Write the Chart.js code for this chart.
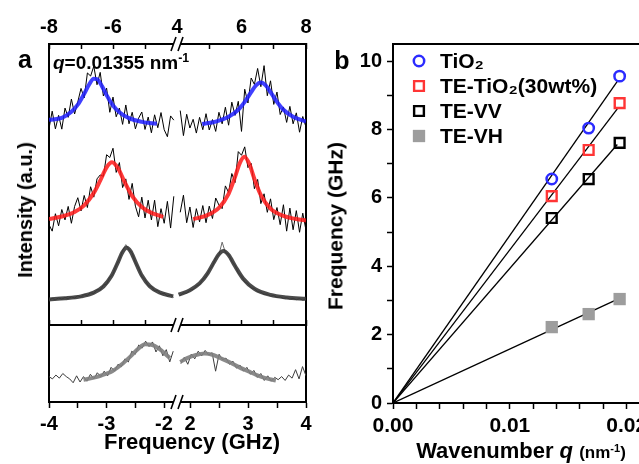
<!DOCTYPE html>
<html lang="en">
<head>
<meta charset="UTF-8" />
<title>Brillouin spectra and phonon dispersion</title>
<style>
  html, body { margin: 0; padding: 0; background: #fff; }
  body {
    width: 639px; height: 464px; overflow: hidden; position: relative;
    font-family: "Liberation Sans", Arial, sans-serif; font-weight: bold; color: #000;
  }
  canvas { position: absolute; }
  .txt { position: absolute; white-space: nowrap; line-height: 1; transform: translate(-50%, -50%); }
  .rot { transform: translate(-50%, -50%) rotate(-90deg); }
  .lbl { position: absolute; white-space: nowrap; }
  .sup { font-size: 0.65em; position: relative; top: -0.55em; }
</style>
</head>
<body>
<canvas id="aUpperL" width="200" height="340" style="left:0;top:0"></canvas>
<canvas id="aUpperR" width="200" height="340" style="left:150px;top:0"></canvas>
<canvas id="aLowerL" width="200" height="164" style="left:0;top:300px"></canvas>
<canvas id="aLowerR" width="200" height="164" style="left:150px;top:300px"></canvas>
<canvas id="bChart" width="360" height="464" style="left:300px;top:0"></canvas>

<div class="txt" style="left:25px;top:59px;font-size:25px">a</div>
<div class="txt" style="left:342px;top:60px;font-size:25px">b</div>
<div class="lbl" style="left:53px;top:53px;font-size:19px;line-height:19px"><i>q</i>=0.01355 nm<span class="sup">-1</span></div>
<div class="txt rot" style="left:25px;top:210px;font-size:20px">Intensity (a.u.)</div>
<div class="txt" style="left:192px;top:442px;font-size:22px">Frequency (GHz)</div>
<div class="txt rot" style="left:335px;top:226px;font-size:21px">Frequency (GHz)</div>
<div class="txt" style="left:521px;top:451px;font-size:22px">Wavenumber <i>q</i> <span style="font-size:17px">(nm<span class="sup">-1</span>)</span></div>

<script src="https://cdn.jsdelivr.net/npm/chart.js"></script>
<script>
  // ---- panel a: sampling grids (GHz) ----
  const topLX = [-8.0,-7.9,-7.8,-7.7,-7.6,-7.5,-7.4,-7.3,-7.2,-7.1,-7.0,-6.9,-6.8,-6.7,-6.6,-6.5,-6.4,-6.3,-6.2,-6.1,
                 -6.0,-5.9,-5.8,-5.7,-5.6,-5.5,-5.4,-5.3,-5.2,-5.1,-5.0,-4.9,-4.8,-4.7,-4.6,-4.5,-4.4,-4.3,-4.2,-4.1];
  const topRX = [4.1,4.2,4.3,4.4,4.5,4.6,4.7,4.8,4.9,5.0,5.1,5.2,5.3,5.4,5.5,5.6,5.7,5.8,5.9,6.0,
                 6.1,6.2,6.3,6.4,6.5,6.6,6.7,6.8,6.9,7.0,7.1,7.2,7.3,7.4,7.5,7.6,7.7,7.8,7.9,8.0];
  const botLX = [-4.00,-3.94,-3.88,-3.82,-3.76,-3.70,-3.64,-3.58,-3.52,-3.46,-3.40,-3.34,-3.28,-3.22,-3.16,-3.10,-3.04,-2.98,-2.92,
                 -2.86,-2.80,-2.74,-2.68,-2.62,-2.56,-2.50,-2.44,-2.38,-2.32,-2.26,-2.20,-2.14,-2.08,-2.02,-1.96,-1.90,-1.84];
  const botRX = [1.84,1.90,1.96,2.02,2.08,2.14,2.20,2.26,2.32,2.38,2.44,2.50,2.56,2.62,2.68,2.74,2.80,2.86,2.92,
                 2.98,3.04,3.10,3.16,3.22,3.28,3.34,3.40,3.46,3.52,3.58,3.64,3.70,3.76,3.82,3.88,3.94,4.00];

  // measured spectra (a.u.)
  const blueL = [6.99,7.61,6.98,7.46,6.97,7.72,7.39,8.04,7.51,7.94,8.42,8.08,8.97,8.86,9.21,8.55,8.99,8.15,8.43,7.57,
                 8.11,7.41,7.72,7.14,7.83,7.16,7.57,6.98,7.36,7.58,6.96,7.40,6.84,7.48,7.02,7.56,6.95,6.70,7.44,7.29];
  const blueR = [7.63,6.74,7.50,7.01,7.32,6.83,7.39,6.95,7.52,6.94,7.31,6.89,7.57,7.16,7.75,7.11,7.93,7.46,7.96,6.89,
                 8.39,7.90,8.79,8.56,9.13,8.48,9.23,8.16,8.69,7.85,8.29,7.49,7.76,7.21,7.78,7.16,7.55,6.86,7.42,7.04];
  const redL  = [3.57,3.34,3.96,3.53,4.11,3.74,4.22,3.62,4.22,4.53,4.06,4.61,4.18,4.92,4.55,5.20,5.34,5.29,6.06,5.96,
                 6.29,5.43,5.78,4.89,5.20,4.47,5.04,4.23,3.85,4.55,3.81,4.44,3.74,4.44,3.50,4.14,3.62,4.40,3.45,4.58];
  const redR  = [4.01,4.62,3.64,4.20,3.47,4.14,3.67,4.25,3.64,4.23,3.79,4.52,4.27,4.14,4.95,4.72,5.39,5.07,6.17,6.04,
                 6.34,5.60,5.75,4.85,5.18,4.32,4.67,4.01,4.49,3.75,4.18,3.57,4.28,3.34,4.16,3.39,4.07,3.30,3.98,3.37];
  const darkL = [0.88,0.95,0.90,0.96,0.92,0.98,0.94,1.00,0.96,1.04,0.99,1.09,1.04,1.15,1.12,1.26,1.24,1.42,1.45,1.70,
                 1.80,2.14,2.32,2.66,2.86,2.68,2.56,2.21,2.03,1.72,1.62,1.40,1.37,1.21,1.23,1.10,1.13,1.03,1.07,0.98];
  const darkR = [1.05,1.14,1.13,1.25,1.26,1.39,1.44,1.63,1.72,1.96,2.10,2.38,2.50,2.95,2.58,2.52,2.27,2.12,1.86,1.74,
                 1.53,1.47,1.32,1.30,1.18,1.17,1.09,1.10,1.03,1.05,0.98,1.00,0.95,0.97,0.92,0.95,0.90,0.94,0.88,0.92];
  const vhL   = [0.33,0.30,0.35,0.31,0.37,0.33,0.30,0.25,0.34,0.26,0.33,0.27,0.36,0.30,0.38,0.33,0.40,0.34,0.45,
                 0.40,0.49,0.46,0.56,0.52,0.66,0.62,0.74,0.70,0.79,0.72,0.78,0.65,0.73,0.60,0.68,0.52,0.66];
  const vhR   = [0.50,0.58,0.49,0.62,0.56,0.66,0.60,0.67,0.61,0.64,0.40,0.62,0.55,0.57,0.49,0.53,0.44,0.48,0.40,
                 0.45,0.36,0.41,0.32,0.37,0.28,0.34,0.27,0.32,0.29,0.33,0.28,0.35,0.31,0.42,0.30,0.46,0.34];

  // Lorentzian fits
  const blueFitLX = [-8.0,-7.6,-7.3,-7.1,-6.9,-6.75,-6.6,-6.5,-6.35,-6.2,-6.0,-5.8,-5.5,-5.1,-4.63];
  const blueFitLY = [7.30,7.37,7.59,7.84,8.23,8.55,8.76,8.75,8.51,8.18,7.81,7.57,7.36,7.23,7.16];
  const blueFitRX = [4.78,5.2,5.6,5.9,6.1,6.3,6.45,6.6,6.75,6.9,7.1,7.3,7.6,8.0];
  const blueFitRY = [7.15,7.24,7.41,7.66,7.94,8.29,8.53,8.63,8.53,8.29,7.94,7.66,7.41,7.24];
  const redFitLX  = [-8.0,-7.6,-7.2,-6.9,-6.6,-6.4,-6.2,-6.03,-5.85,-5.65,-5.4,-5.1,-4.8,-4.43];
  const redFitLY  = [3.77,3.86,4.02,4.26,4.70,5.14,5.61,5.79,5.59,5.12,4.59,4.20,3.99,3.85];
  const redFitRX  = [4.5,4.9,5.3,5.6,5.8,5.95,6.09,6.25,6.4,6.6,6.9,7.3,7.7,8.0];
  const redFitRY  = [3.77,3.89,4.17,4.67,5.27,5.77,5.99,5.71,5.20,4.62,4.14,3.88,3.77,3.72];
  const darkFitLX = [-8.0,-7.5,-7.0,-6.6,-6.3,-6.05,-5.85,-5.7,-5.57,-5.45,-5.3,-5.1,-4.85,-4.55,-4.12];
  const darkFitLY = [0.91,0.95,1.02,1.15,1.37,1.74,2.22,2.60,2.75,2.62,2.25,1.76,1.38,1.16,1.02];
  const darkFitRX = [4.05,4.4,4.7,4.95,5.15,5.3,5.44,5.6,5.8,6.05,6.4,6.9,7.4,8.0];
  const darkFitRY = [1.08,1.24,1.48,1.84,2.24,2.52,2.63,2.49,2.10,1.65,1.29,1.07,0.98,0.93];
  const vhFitLX   = [-3.4,-3.2,-3.0,-2.9,-2.75,-2.6,-2.45,-2.33,-2.2,-2.1,-2.0,-1.9];
  const vhFitLY   = [0.29,0.32,0.37,0.40,0.48,0.58,0.69,0.75,0.74,0.70,0.64,0.57];
  const vhFitRX   = [1.83,1.95,2.1,2.25,2.4,2.55,2.7,2.85,3.0,3.15,3.3,3.48];
  const vhFitRY   = [0.52,0.57,0.61,0.63,0.61,0.56,0.51,0.45,0.40,0.35,0.31,0.28];

  // ---- panel b ----
  const qValues    = [0.01359, 0.01675, 0.0194];
  const freqTiO2   = [6.55, 8.04, 9.56];
  const freqTeTiO2 = [6.05, 7.40, 8.77];
  const freqTeVV   = [5.41, 6.55, 7.61];
  const freqTeVH   = [2.22, 2.60, 3.04];
  const fitQ       = [0, 0.0192];
  const fitTiO2    = [0, 9.41];
  const fitTeTiO2  = [0, 8.60];
  const fitTeVV    = [0, 7.56];
  const fitTeVH    = [0, 3.03];

  Chart.defaults.font.family = '"Liberation Sans", Arial, sans-serif';
  Chart.defaults.font.weight = 'bold';
  Chart.defaults.font.size = 20;
  Chart.defaults.color = '#000';

  const pts = (xs, ys) => xs.map((x, i) => ({ x: x, y: ys[i] }));

  function trace(xs, ys, color) {
    return { data: pts(xs, ys), showLine: true, pointRadius: 0, borderColor: color, borderWidth: 1, order: 1 };
  }
  function fit(xs, ys, color) {
    return { data: pts(xs, ys), showLine: true, pointRadius: 0, borderColor: color, borderWidth: 4,
             cubicInterpolationMode: 'monotone', order: 0 };
  }

  // the "//" axis-break marks, drawn at the left edge of the right-hand charts
  const breakMarks = {
    id: 'breakMarks',
    afterDraw(chart, args, opts) {
      const { ctx, chartArea } = chart;
      const x = chartArea.left;
      ctx.save();
      (opts.edges || []).forEach(edge => {
        const y = chartArea[edge];
        ctx.fillStyle = '#fff';
        ctx.beginPath();
        ctx.moveTo(x - 6, y + 7); ctx.lineTo(x - 1, y - 7);
        ctx.lineTo(x + 6, y - 7); ctx.lineTo(x + 1, y + 7);
        ctx.closePath(); ctx.fill();
        ctx.strokeStyle = '#000'; ctx.lineWidth = 1.6;
        ctx.beginPath();
        ctx.moveTo(x - 6, y + 7); ctx.lineTo(x - 1, y - 7);
        ctx.moveTo(x + 1, y + 7); ctx.lineTo(x + 6, y - 7);
        ctx.stroke();
      });
      ctx.restore();
    }
  };

  function spectrumChart(id, o) {
    const left = o.side === 'left';
    const upper = o.row === 'upper';
    const border = { color: '#000', width: 2 };
    const scales = {
      x: {
        type: 'linear', position: upper ? 'top' : 'bottom', min: o.xMin, max: o.xMax,
        afterFit: s => { s.height = upper ? 44 : 62; },
        ticks: { stepSize: o.step, includeBounds: false, autoSkip: false, maxRotation: 0,
                 padding: upper ? 10 : 4, callback: o.label },
        grid: { drawOnChartArea: false, tickLength: upper ? -5 : 6, tickWidth: 1.5, tickColor: '#000' },
        border: border
      },
      y: {
        position: left ? 'left' : 'right', min: 0, max: o.yMax,
        afterFit: s => { s.width = left ? 49 : 44; },
        ticks: { display: false }, grid: { display: false }, border: border
      }
    };
    if (upper) {
      // divider between the two stacked plots, ticks pointing up
      scales.xd = {
        type: 'linear', position: 'bottom', min: o.xMin, max: o.xMax,
        afterFit: s => { s.height = 15; },
        ticks: { display: false, stepSize: 1, includeBounds: false },
        grid: { drawOnChartArea: false, tickLength: -5, tickWidth: 1.5, tickColor: '#000' },
        border: border
      };
    }
    return new Chart(document.getElementById(id), {
      type: 'scatter',
      data: { datasets: o.datasets },
      options: {
        responsive: false, animation: false, events: [],
        layout: { padding: { left: left ? 0 : 27, right: left ? 23 : 0, top: upper ? 0 : 25, bottom: 0 } },
        plugins: { legend: { display: false }, tooltip: { enabled: false }, breakMarks: { edges: o.breaks || [] } },
        scales: scales
      },
      plugins: [breakMarks]
    });
  }

  const BLUE_FIT = 'rgba(30,30,255,0.85)';
  const RED_FIT = 'rgba(255,25,25,0.85)';
  const DARK_FIT = 'rgba(50,50,50,0.88)';
  const GRAY_FIT = 'rgba(128,128,128,0.92)';

  spectrumChart('aUpperL', {
    side: 'left', row: 'upper', xMin: -8, xMax: -4, yMax: 10, step: 1,
    label: v => (v === -8 || v === -6) ? v : '',
    datasets: [
      fit(blueFitLX, blueFitLY, BLUE_FIT), fit(redFitLX, redFitLY, RED_FIT), fit(darkFitLX, darkFitLY, DARK_FIT),
      trace(topLX, blueL, '#000'), trace(topLX, redL, '#000'), trace(topLX, darkL, '#6a6a6a')
    ]
  });
  spectrumChart('aUpperR', {
    side: 'right', row: 'upper', xMin: 4, xMax: 8, yMax: 10, step: 1, breaks: ['top', 'bottom'],
    label: v => v % 2 === 0 ? v : '',
    datasets: [
      fit(blueFitRX, blueFitRY, BLUE_FIT), fit(redFitRX, redFitRY, RED_FIT), fit(darkFitRX, darkFitRY, DARK_FIT),
      trace(topRX, blueR, '#000'), trace(topRX, redR, '#000'), trace(topRX, darkR, '#6a6a6a')
    ]
  });
  spectrumChart('aLowerL', {
    side: 'left', row: 'lower', xMin: -4, xMax: -1.774, yMax: 1, step: 0.5,
    label: v => Number.isInteger(v) ? v : '',
    datasets: [fit(vhFitLX, vhFitLY, GRAY_FIT), trace(botLX, vhL, '#3c3c3c')]
  });
  spectrumChart('aLowerR', {
    side: 'right', row: 'lower', xMin: 1.774, xMax: 4, yMax: 1, step: 0.5, breaks: ['bottom'],
    label: v => Number.isInteger(v) ? v : '',
    datasets: [fit(vhFitRX, vhFitRY, GRAY_FIT), trace(botRX, vhR, '#3c3c3c')]
  });

  // ---- panel b: dispersion ----
  const inlineLegend = {
    id: 'inlineLegend',
    afterDraw(chart) {
      const { ctx, chartArea } = chart;
      ctx.save();
      ctx.font = 'bold 21px "Liberation Sans", Arial, sans-serif';
      ctx.textBaseline = 'middle';
      chart.data.datasets.filter(d => d.label).forEach((d, i) => {
        const x = chartArea.left + 26;
        const y = chartArea.top + 17 + i * 25;
        ctx.strokeStyle = d.pointBorderColor;
        ctx.fillStyle = d.pointBackgroundColor;
        ctx.lineWidth = d.pointBorderWidth;
        Chart.helpers.drawPoint(ctx, { pointStyle: d.pointStyle, radius: d.pointRadius,
          borderWidth: d.pointBorderWidth, rotation: 0 }, x, y);
        ctx.fillStyle = '#000';
        ctx.fillText(d.label, x + 21, y + 1);
      });
      ctx.restore();
    }
  };
  const frame = {
    id: 'frame',
    afterDraw(chart) {
      const { ctx, chartArea: a } = chart;
      ctx.save();
      ctx.strokeStyle = '#000'; ctx.lineWidth = 2;
      ctx.beginPath();
      ctx.moveTo(a.left, a.top); ctx.lineTo(a.right, a.top); ctx.lineTo(a.right, a.bottom);
      ctx.stroke();
      ctx.restore();
    }
  };

  const marker = (label, ys, style, r, color, fill, bw) => ({
    label: label, data: pts(qValues, ys), pointStyle: style, pointRadius: r,
    pointBorderColor: color, pointBackgroundColor: fill, pointBorderWidth: bw, order: 0
  });
  const fitLine = ys => ({ data: pts(fitQ, ys), showLine: true, pointRadius: 0,
                           borderColor: '#000', borderWidth: 1.3, order: 1 });

  new Chart(document.getElementById('bChart'), {
    type: 'scatter',
    data: {
      datasets: [
        marker('TiO₂', freqTiO2, 'circle', 5.2, '#2b2bff', 'rgba(0,0,0,0)', 2.5),
        marker('TE-TiO₂(30wt%)', freqTeTiO2, 'rect', 6.9, '#ff3535', 'rgba(0,0,0,0)', 2.4),
        marker('TE-VV', freqTeVV, 'rect', 6.9, '#000', 'rgba(0,0,0,0)', 2.4),
        marker('TE-VH', freqTeVH, 'rect', 8.7, '#9d9d9d', '#9d9d9d', 0),
        fitLine(fitTiO2), fitLine(fitTeTiO2), fitLine(fitTeVV), fitLine(fitTeVH)
      ]
    },
    options: {
      responsive: false, animation: false, events: [],
      layout: { padding: { top: 44, right: 10 } },
      plugins: { legend: { display: false }, tooltip: { enabled: false } },
      scales: {
        x: {
          type: 'linear', min: 0, max: 0.022,
          afterFit: s => { s.height = 61; },
          ticks: { stepSize: 0.002, includeBounds: false, autoSkip: false, maxRotation: 0, padding: 5,
                   font: { size: 21 },
                   callback: v => Math.round(v * 1000) % 10 === 0 ? v.toFixed(2) : '' },
          grid: { drawOnChartArea: false, tickLength: 6, tickWidth: 1.5, tickColor: '#000' },
          border: { color: '#000', width: 2 }
        },
        y: {
          min: 0, max: 10.5,
          afterFit: s => { s.width = 93; },
          ticks: { stepSize: 1, includeBounds: false, padding: 5, font: { size: 20 },
                   callback: v => v % 2 === 0 ? v : '' },
          grid: { drawOnChartArea: false, tickLength: 6, tickWidth: 1.5, tickColor: '#000' },
          border: { color: '#000', width: 2 }
        }
      }
    },
    plugins: [inlineLegend, frame]
  });
</script>
</body>
</html>
